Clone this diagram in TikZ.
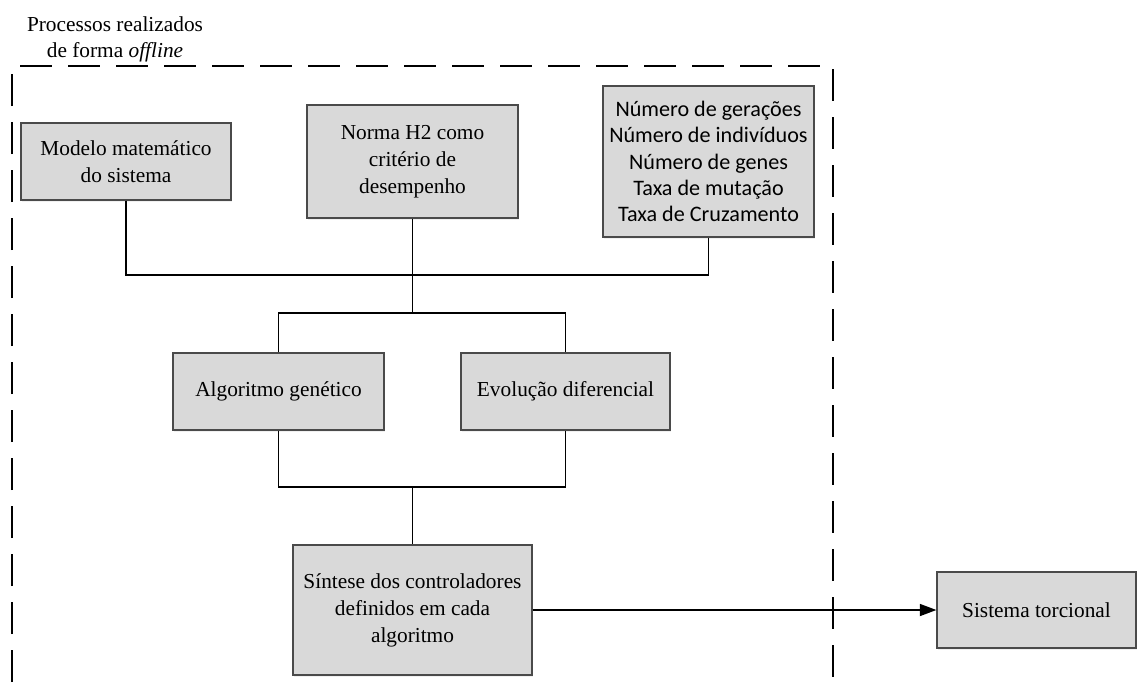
\documentclass[tikz,border=0pt]{standalone}
\usepackage{fontspec}
\setmainfont{Liberation Serif}
\newfontfamily\calib{Carlito}
\usetikzlibrary{arrows.meta,shadows}
\definecolor{boxfill}{HTML}{D9D9D9}
\definecolor{boxline}{HTML}{4A4A4A}
\tikzset{
  blk/.style={draw=boxline, line width=0.85pt, fill=boxfill, align=center, inner sep=2pt,
    font=\fontsize{16}{20.25}\selectfont,
    drop shadow={opacity=0.12, shadow xshift=1pt, shadow yshift=-1.2pt}},
  conn/.style={line width=1.35pt, black},
  frame/.style={line width=1.5pt, black, dash pattern=on 24pt off 12pt},
}
\begin{document}
\begin{tikzpicture}[x=0.75pt, y=-0.75pt]
\useasboundingbox (0,0) rectangle (1144,690);
% frame
\draw[frame, dash phase=30pt] (12,690) -- (12,66) -- (833,66) -- (833,690);
\node[align=center, font=\fontsize{16}{19.5}\selectfont] (lbl) at (115,39) {Processos realizados\\de forma \textit{offline}};
% boxes
\node[blk, minimum width=157.5pt, minimum height=57.75pt] (mod) at (126,161.5) {Modelo matemático\\do sistema};
\node[blk, minimum width=158.25pt, minimum height=84.75pt] (nor) at (412.5,161.5) {Norma H2 como\\critério de\\desempenho};
\node[blk, minimum width=158.25pt, minimum height=113.25pt, font=\calib\fontsize{16.6}{19.8}\selectfont] (num) at (708.5,161.5) {Número de gerações\\Número de indivíduos\\Número de genes\\Taxa de mutação\\Taxa de Cruzamento};
\node[blk, minimum width=158.25pt, minimum height=57.75pt] (ag) at (278.5,391.5) {Algoritmo genético};
\node[blk, minimum width=156.75pt, minimum height=57.75pt] (ed) at (565.5,391.5) {Evolução diferencial};
\node[blk, minimum width=179.25pt, minimum height=97.5pt] (sin) at (412.5,610) {Síntese dos controladores\\definidos em cada\\algoritmo};
\node[blk, minimum width=149.25pt, minimum height=57pt] (sis) at (1036.5,610) {Sistema torcional};
% junctions
\coordinate (b1) at (412.5,275);
\coordinate (j1) at (412.5,313);
\coordinate (j2) at (412.5,487);
% connectors
\draw[conn] (mod.south) |- (b1) -| (num.south);
\draw[conn] (nor.south) -- (j1);
\draw[conn] (ag.north) |- (j1) -| (ed.north);
\draw[conn] (ag.south) |- (j2) -| (ed.south);
\draw[conn] (j2) -- (sin.north);
\draw[conn, -{Triangle[length=12.5pt, width=9pt]}] (sin.east) -- (sis.west);
\end{tikzpicture}
\end{document}
